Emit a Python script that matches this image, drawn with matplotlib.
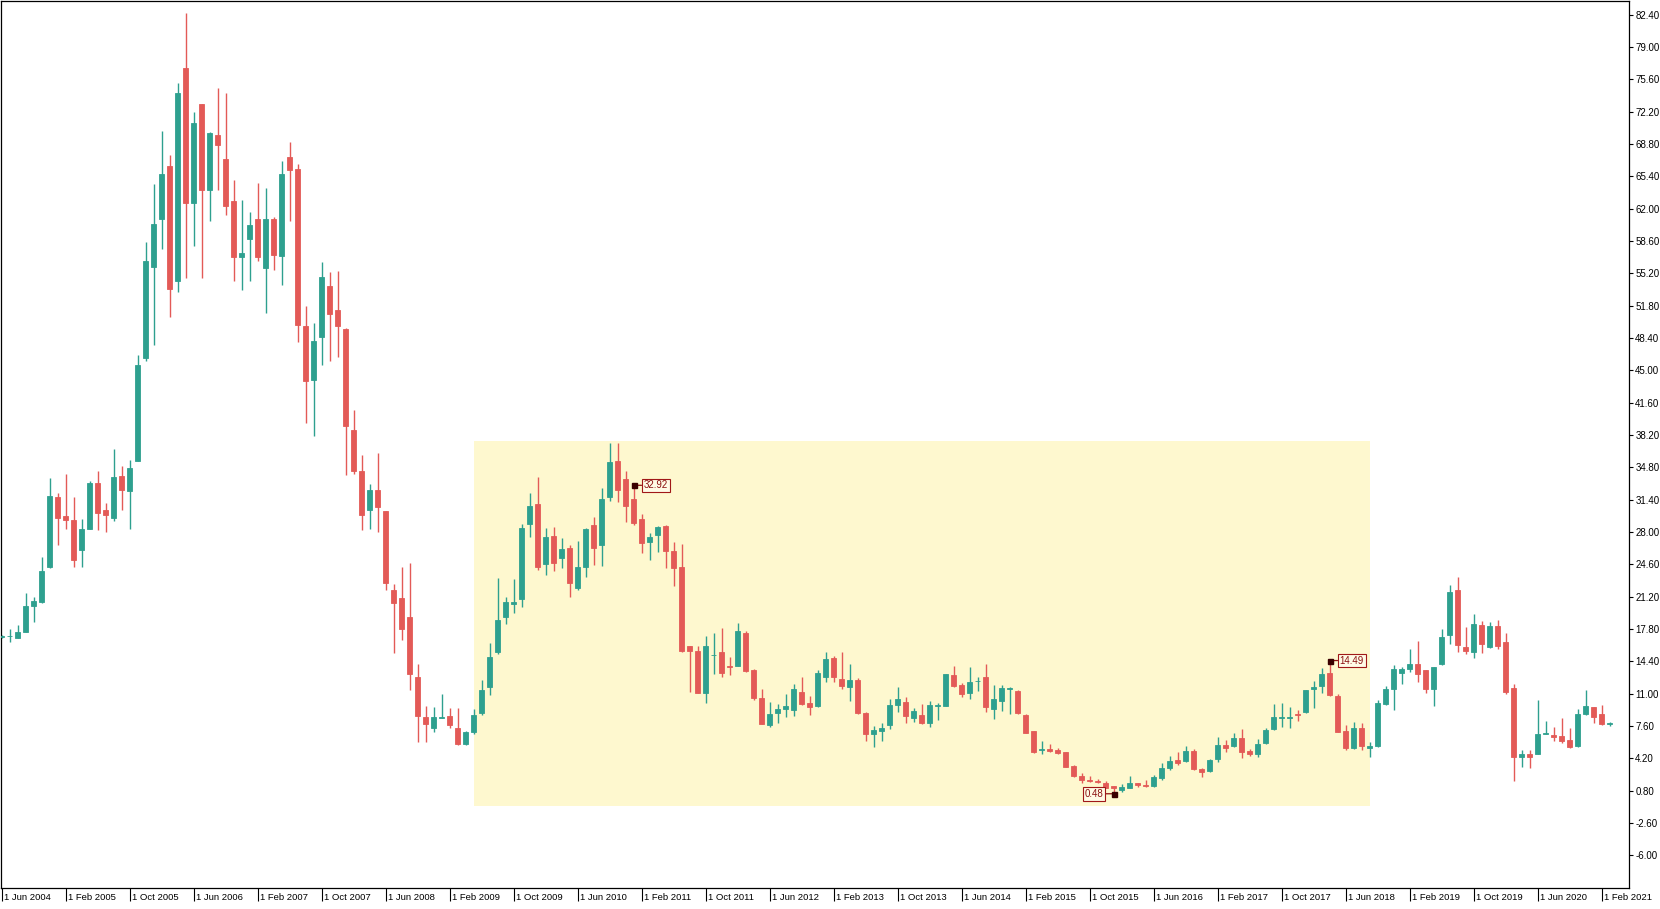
import matplotlib
matplotlib.use("Agg")
import matplotlib.pyplot as plt
from matplotlib.patches import Rectangle
import numpy as np
import pandas as pd

# ---------------- data ----------------
months = pd.date_range("2004-06-01", periods=202, freq="MS")

opens = [17.0, 17.07, 16.88, 17.49, 20.23, 20.66, 24.38, 31.7, 29.69, 29.27,
         26.14, 28.35, 33.16, 30.29, 29.5, 33.89, 32.31, 35.48, 46.33, 55.9,
         60.97, 66.52, 54.38, 76.82, 62.61, 72.98, 64.02, 69.8, 67.25, 62.86,
         56.88, 58.77, 60.91, 55.72, 60.91, 57.0, 67.49, 66.15, 49.7, 43.96,
         48.47, 53.9, 51.33, 49.32, 38.71, 34.44, 30.29, 32.43, 30.17, 21.88,
         21.03, 19.02, 12.74, 8.53, 7.44, 8.5, 8.65, 7.44, 5.72, 6.94,
         8.94, 11.67, 15.35, 19.1, 20.44, 20.93, 28.81, 30.95, 24.61, 27.59,
         25.31, 26.33, 22.08, 24.36, 28.71, 26.64, 31.72, 35.48, 33.55, 31.48,
         29.38, 26.99, 27.69, 28.67, 26.01, 24.29, 15.98, 15.53, 11.11, 15.07,
         15.35, 13.95, 13.95, 17.42, 13.5, 10.52, 7.71, 9.01, 9.4, 9.29,
         11.15, 9.99, 9.71, 12.8, 14.79, 12.55, 11.75, 12.44, 8.94, 6.77,
         7.12, 7.71, 9.82, 10.17, 8.48, 8.76, 7.95, 9.75, 9.74, 12.97,
         11.91, 11.04, 12.3, 12.72, 9.39, 10.27, 11.55, 11.28, 8.76, 7.08,
         5.05, 5.19, 5.08, 4.83, 3.43, 2.38, 1.95, 1.86, 1.65, 1.3,
         0.91, 1.12, 1.58, 1.4, 1.33, 2.1, 3.23, 4.03, 3.93, 5.01,
         3.08, 2.91, 4.1, 5.61, 5.5, 6.31, 5.01, 4.63, 5.78, 7.26,
         8.45, 8.45, 8.9, 9.11, 11.46, 11.85, 13.14, 10.8, 7.08, 5.26,
         7.36, 5.26, 5.5, 9.88, 11.5, 13.14, 13.57, 14.13, 13.49, 11.46,
         14.09, 17.17, 21.91, 15.88, 15.42, 18.23, 15.95, 18.12, 16.4, 11.57,
         4.31, 4.63, 4.66, 6.8, 6.66, 6.55, 6.13, 5.5, 8.83, 9.57,
         8.87, 7.78]
highs = [17.2, 17.8, 18.28, 21.64, 21.15, 25.42, 33.65, 32.1, 34.08, 31.7,
         29.39, 33.35, 34.45, 31.03, 36.7, 34.99, 35.6, 46.64, 58.53, 64.57,
         70.17, 67.61, 75.24, 82.6, 72.19, 73.0, 70.05, 74.71, 74.2, 65.05,
         62.92, 61.7, 64.75, 64.14, 61.1, 67.0, 69.0, 66.76, 51.76, 50.0,
         56.4, 55.3, 55.48, 49.5, 40.79, 36.08, 33.04, 36.27, 30.2, 22.55,
         24.38, 24.8, 14.14, 9.71, 9.65, 10.93, 9.53, 9.53, 7.1, 9.4,
         12.44, 16.3, 23.14, 21.21, 23.07, 28.85, 32.14, 33.83, 28.39, 28.57,
         27.41, 26.64, 27.1, 28.39, 29.62, 32.6, 37.33, 37.4, 34.42, 32.92,
         29.87, 27.87, 28.67, 28.74, 26.92, 26.71, 16.0, 16.06, 17.07, 17.42,
         17.88, 14.83, 18.47, 17.6, 13.6, 11.5, 10.1, 9.92, 10.97, 12.02,
         12.73, 10.76, 13.5, 15.42, 15.0, 15.42, 14.13, 12.62, 9.12, 7.61,
         7.96, 10.45, 11.74, 10.62, 9.47, 9.88, 10.23, 10.0, 13.1, 13.95,
         12.09, 13.77, 12.72, 14.12, 11.91, 11.91, 11.74, 11.35, 8.83, 7.1,
         6.06, 5.71, 5.25, 4.9, 3.5, 2.62, 2.38, 2.0, 1.86, 1.32,
         1.47, 2.31, 1.6, 1.93, 2.45, 3.68, 4.45, 4.91, 5.5, 5.15,
         3.15, 4.14, 6.49, 6.13, 6.84, 7.26, 5.15, 6.21, 7.36, 9.89,
         9.99, 9.57, 9.29, 11.4, 12.34, 13.67, 14.49, 10.94, 7.71, 7.99,
         7.96, 5.89, 10.34, 11.81, 14.02, 13.77, 15.7, 16.58, 13.5, 13.8,
         17.81, 22.43, 23.31, 18.05, 19.38, 18.65, 18.51, 18.75, 17.35, 11.99,
         5.08, 5.08, 10.34, 8.17, 7.54, 8.41, 7.36, 9.39, 11.39, 9.6,
         9.81, 8.0]
lows = [16.9, 16.4, 16.88, 17.49, 18.59, 20.54, 24.2, 26.6, 28.35, 24.38,
        24.38, 28.35, 28.17, 27.99, 29.2, 30.29, 28.3, 35.48, 46.03, 47.67,
        57.74, 50.66, 53.28, 54.69, 58.04, 54.69, 60.67, 64.02, 61.39, 54.38,
        53.47, 54.38, 56.52, 51.03, 55.6, 53.96, 60.67, 47.98, 39.44, 38.1,
        45.54, 46.03, 46.45, 33.95, 34.08, 28.17, 28.3, 28.05, 21.88, 15.24,
        16.7, 11.4, 5.9, 5.9, 7.0, 8.4, 7.44, 5.6, 5.6, 6.8,
        8.8, 10.87, 15.18, 18.33, 19.46, 20.09, 27.52, 24.01, 23.49, 23.94,
        24.19, 21.14, 21.91, 23.24, 24.54, 24.47, 31.3, 31.2, 29.1, 28.74,
        25.83, 25.06, 25.94, 24.26, 22.36, 15.42, 11.22, 11.11, 10.06, 13.08,
        12.72, 12.97, 13.95, 13.32, 10.34, 7.82, 7.54, 7.96, 8.59, 8.66,
        9.82, 8.76, 9.57, 12.27, 12.27, 11.5, 10.27, 8.87, 6.07, 5.43,
        6.07, 7.29, 9.12, 7.96, 8.06, 7.81, 7.53, 8.23, 9.7, 11.74,
        10.69, 10.41, 11.32, 9.11, 8.34, 9.22, 8.83, 8.86, 6.83, 4.8,
        4.62, 4.83, 4.66, 3.26, 2.27, 1.57, 1.68, 1.65, 1.05, 0.48,
        0.63, 1.09, 1.23, 1.23, 1.23, 1.93, 2.98, 3.5, 3.86, 2.98,
        2.28, 2.8, 3.79, 4.91, 5.43, 4.21, 4.49, 4.38, 5.71, 7.19,
        7.54, 7.43, 8.13, 8.94, 9.53, 11.11, 10.8, 6.94, 5.08, 5.19,
        5.08, 4.38, 5.36, 9.81, 9.29, 11.99, 13.32, 12.27, 11.04, 9.74,
        14.02, 16.19, 15.35, 15.14, 14.72, 15.32, 15.84, 15.67, 10.94, 1.86,
        3.33, 3.22, 4.63, 6.76, 6.06, 5.85, 5.33, 5.36, 8.76, 7.89,
        7.71, 7.61]
closes = [17.05, 17.1, 17.49, 20.23, 20.72, 23.89, 31.82, 29.5, 29.27, 25.11,
          28.35, 33.16, 29.99, 29.75, 33.77, 32.43, 34.75, 45.54, 56.52, 60.42,
          65.66, 53.59, 74.2, 62.61, 71.03, 64.02, 69.93, 68.71, 62.3, 56.88,
          57.37, 60.3, 56.88, 60.91, 57.13, 65.66, 66.09, 49.81, 43.84, 48.1,
          54.81, 50.9, 49.63, 39.14, 34.38, 29.81, 32.43, 30.6, 22.67, 20.54,
          17.8, 13.04, 8.65, 7.86, 8.53, 8.6, 7.74, 5.72, 7.0, 8.77,
          11.39, 14.83, 18.75, 20.61, 20.68, 28.46, 30.74, 24.36, 27.52, 24.78,
          26.22, 22.68, 24.29, 28.32, 26.29, 31.44, 35.33, 32.43, 30.74, 28.92,
          26.89, 27.45, 28.5, 26.05, 24.26, 15.53, 15.53, 11.11, 16.06, 15.1,
          13.22, 13.8, 17.6, 13.39, 10.52, 7.82, 8.87, 9.4, 9.75, 11.5,
          9.92, 9.64, 13.15, 14.62, 12.73, 11.85, 12.44, 8.94, 6.73, 7.19,
          7.43, 9.82, 10.45, 8.66, 9.22, 7.88, 9.81, 9.85, 13.07, 11.84,
          10.97, 12.23, 12.37, 9.64, 10.44, 11.56, 11.65, 9.0, 6.9, 4.87,
          5.15, 4.94, 4.73, 3.33, 2.34, 1.92, 1.85, 1.72, 1.12, 1.12,
          1.23, 1.58, 1.4, 1.33, 2.21, 3.16, 3.96, 3.75, 4.98, 3.08,
          2.73, 4.03, 5.61, 5.33, 6.31, 4.84, 4.63, 5.71, 7.19, 8.59,
          8.52, 8.52, 8.8, 11.39, 11.67, 13.07, 10.87, 6.94, 5.33, 7.36,
          5.5, 5.47, 10.06, 11.5, 13.6, 13.6, 14.13, 13.04, 11.46, 13.78,
          16.93, 21.73, 16.12, 15.53, 18.3, 16.23, 18.12, 16.05, 11.15, 4.31,
          4.63, 4.38, 6.73, 6.87, 6.41, 6.03, 5.43, 8.83, 9.74, 8.59,
          7.78, 7.95]

xtick_labels = ["1 Jun 2004", "1 Feb 2005", "1 Oct 2005", "1 Jun 2006", "1 Feb 2007",
                "1 Oct 2007", "1 Jun 2008", "1 Feb 2009", "1 Oct 2009", "1 Jun 2010",
                "1 Feb 2011", "1 Oct 2011", "1 Jun 2012", "1 Feb 2013", "1 Oct 2013",
                "1 Jun 2014", "1 Feb 2015", "1 Oct 2015", "1 Jun 2016", "1 Feb 2017",
                "1 Oct 2017", "1 Jun 2018", "1 Feb 2019", "1 Oct 2019", "1 Jun 2020",
                "1 Feb 2021"]
ytick_values = [82.40, 79.00, 75.60, 72.20, 68.80, 65.40, 62.00, 58.60, 55.20, 51.80,
                48.40, 45.00, 41.60, 38.20, 34.80, 31.40, 28.00, 24.60, 21.20, 17.80,
                14.40, 11.00, 7.60, 4.20, 0.80, -2.60, -6.00]

# highlighted zone (bar index range and price range)
zone_start, zone_end = 59, 171
zone_low, zone_high = -0.78, 37.62

# price labels
ann_index = [79, 139, 166]
ann_price = [32.92, 0.48, 14.49]
ann_side = ["right", "left", "right"]

# ---------------- style ----------------
UP = "#2ea08f"
DOWN = "#e35a57"
ZONE = "#fef8cf"
W, H, DPI = 1660, 909, 100

plt.rcParams["font.family"] = ["Liberation Sans", "DejaVu Sans"]

fig = plt.figure(figsize=(W / DPI, H / DPI), dpi=DPI)
fig.patch.set_facecolor("white")
ax = fig.add_axes([1 / W, (H - 888) / H, (1629 - 1) / W, (888 - 1) / H])
ax.set_facecolor("white")

x = np.arange(len(opens))
o = np.array(opens); h = np.array(highs); l = np.array(lows); c = np.array(closes)
up = c >= o
colors = np.where(up, UP, DOWN)

# zone
ax.add_patch(Rectangle((zone_start, zone_low), zone_end - zone_start, zone_high - zone_low,
                       facecolor=ZONE, edgecolor="none", zorder=0))

# wicks
ax.vlines(x, l, h, colors=colors, linewidth=1.0, zorder=2)
# bodies
bottom = np.minimum(o, c)
height = np.maximum(np.abs(c - o), 0.04)
ax.bar(x, height, bottom=bottom, width=0.6, color=colors, edgecolor=colors,
       linewidth=0.6, zorder=3)

# price annotations
for i, p, side in zip(ann_index, ann_price, ann_side):
    dx = 10 if side == "right" else -10
    ax.annotate(f"{p:.2f}", xy=(i, p), xytext=(dx, 0), textcoords="offset pixels",
                ha="left" if side == "right" else "right", va="center",
                fontsize=7, color="#8b1010",
                bbox=dict(boxstyle="square,pad=0.18", fc="#fffbe6", ec="#a01818", lw=0.8),
                arrowprops=dict(arrowstyle="-", color="#8b1010", lw=0.9,
                                shrinkA=0, shrinkB=0),
                zorder=6)
    ax.plot([i], [p], marker="s", ms=3.6, color="#3a0000", zorder=7)

# axes
ax.set_xlim(-0.0875, 203.41)
ax.set_ylim(-9.43, 83.85)

ax.yaxis.tick_right()
ax.set_yticks(ytick_values)
ax.set_yticklabels([f"{v:.2f}" for v in ytick_values])
ax.tick_params(axis="y", direction="out", length=3, width=0.8, pad=1.5,
               labelsize=7, colors="black")

xt = np.arange(0, len(opens), 8)
ax.set_xticks(xt)
ax.set_xticklabels([])
ax.tick_params(axis="x", direction="out", length=9, width=0.8)
for pos, lab in zip(xt, xtick_labels):
    ax.annotate(lab, xy=(pos, 0), xycoords=("data", "axes fraction"),
                xytext=(2, -5), textcoords="offset pixels",
                ha="left", va="top", fontsize=6.8, color="black")

for s in ax.spines.values():
    s.set_color("black")
    s.set_linewidth(0.9)

fig.savefig("out.png", dpi=DPI, facecolor="white")
